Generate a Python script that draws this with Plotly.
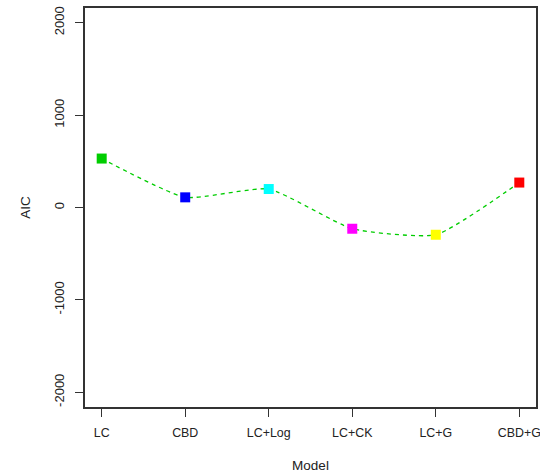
import plotly.graph_objects as go

models = ["LC", "CBD", "LC+Log", "LC+CK", "LC+G", "CBD+G"]
aic = [530, 110, 200, -230, -295, 270]
colors = ["#00CD00", "#0000FF", "#00FFFF", "#FF00FF", "#FFFF00", "#FF0000"]
xpos = [1, 2, 3, 4, 5, 6]
yticks = [-2000, -1000, 0, 1000, 2000]
ytext = ["-2000", "-1000", "0", "1000", "2000"]

fig = go.Figure()
fig.add_trace(go.Scatter(
    x=xpos, y=aic, mode="lines",
    line=dict(color="#00CD00", width=1.3, dash="4px,4px", shape="spline", smoothing=0.5),
    hoverinfo="skip", showlegend=False))
fig.add_trace(go.Scatter(
    x=xpos, y=aic, mode="markers",
    marker=dict(symbol="square", size=10, color=colors, line=dict(width=0)),
    showlegend=False))

font = dict(family="Liberation Sans, Arial, sans-serif", size=13, color="#222222")
xfont = dict(family="Liberation Sans, Arial, sans-serif", size=12.4, color="#222222")
tfont = dict(family="Liberation Sans, Arial, sans-serif", size=13.5, color="#222222")
fig.update_layout(
    width=540, height=475,
    margin=dict(l=85, r=4, t=8, b=68),
    paper_bgcolor="white", plot_bgcolor="white",
    font=font,
    xaxis=dict(range=[0.8, 6.2], tickvals=xpos, ticktext=models, tickfont=xfont,
               showgrid=False, zeroline=False, showline=True, mirror=True,
               linecolor="#333333", linewidth=1.5, ticks="outside", ticklen=8,
               tickcolor="#333333", ticklabelstandoff=5, automargin=False,
               ticklabeloverflow="allow",
               title=dict(text="Model", standoff=22, font=tfont)),
    yaxis=dict(range=[-2160, 2160], tickvals=yticks, ticktext=ytext,
               showgrid=False, zeroline=False, showline=True, mirror=True,
               linecolor="#333333", linewidth=1.5, ticks="outside", ticklen=8,
               tickcolor="#333333", tickangle=-90, ticklabelstandoff=6,
               automargin=False,
               title=dict(text="AIC", standoff=18, font=tfont)),
)
fig.write_html("out.html")
